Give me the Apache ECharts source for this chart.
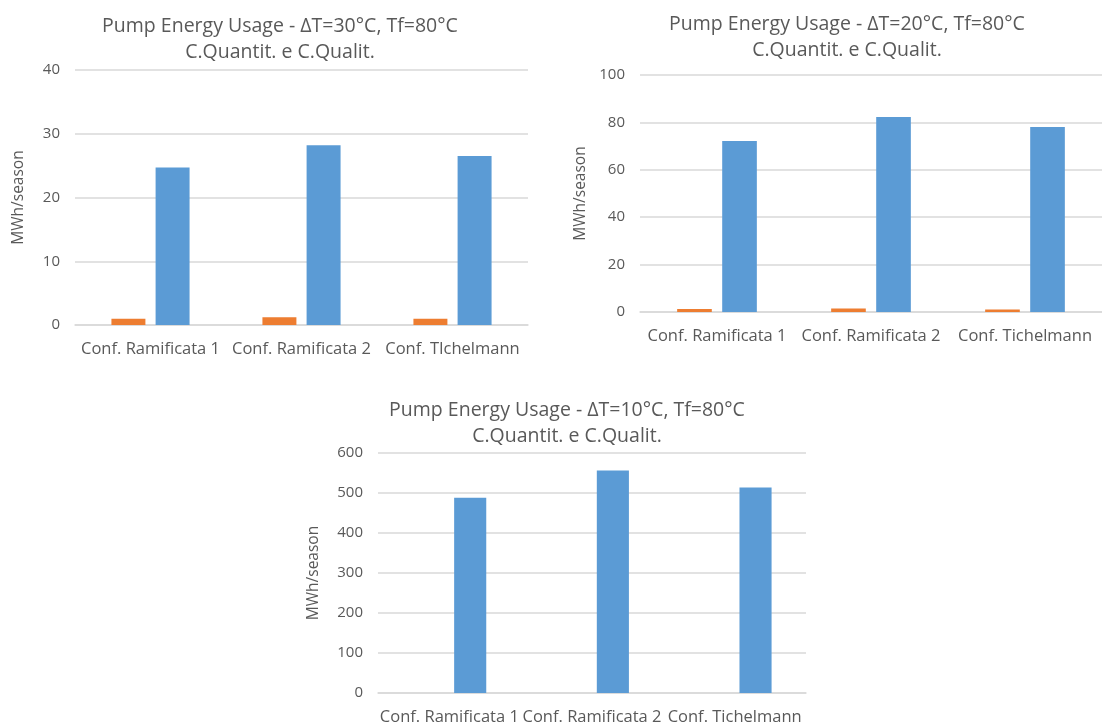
<!DOCTYPE html>
<html>
<head>
<meta charset="utf-8">
<script src="https://cdn.jsdelivr.net/npm/echarts@6/dist/echarts.min.js"></script>
<style>
  html, body { margin: 0; padding: 0; background: #fff; }
  #chart { width: 1102px; height: 726px; }
</style>
</head>
<body>
<div id="chart"></div>
<script>
// Categories per panel
const categoriesDT30 = ['Conf. Ramificata 1', 'Conf. Ramificata 2', 'Conf. TIchelmann'];
const categoriesDT20 = ['Conf. Ramificata 1', 'Conf. Ramificata 2', 'Conf. Tichelmann'];
const categoriesDT10 = ['Conf. Ramificata 1', 'Conf. Ramificata 2', 'Conf. Tichelmann'];

// Pump energy, MWh/season (orange series, blue series)
const orangeDT30 = [1.0, 1.2, 1.0];
const blueDT30 = [24.7, 28.2, 26.5];
const orangeDT20 = [1.3, 1.5, 1.1];
const blueDT20 = [72.2, 82.3, 78.1];
const orangeDT10 = [0, 0, 0];
const blueDT10 = [488, 556, 514];

// Axis ranges
const axisDT30 = { max: 40, interval: 10 };
const axisDT20 = { max: 100, interval: 20 };
const axisDT10 = { max: 600, interval: 100 };

const titlesText = [
  'Pump Energy Usage - ΔT=30°C, Tf=80°C\nC.Quantit. e C.Qualit.',
  'Pump Energy Usage - ΔT=20°C, Tf=80°C\nC.Quantit. e C.Qualit.',
  'Pump Energy Usage - ΔT=10°C, Tf=80°C\nC.Quantit. e C.Qualit.'
];

const FONT = '"Open Sans", "Noto Sans", sans-serif';
const TXT = '#595959';
const GRIDC = '#D9D9D9';
const ORANGE = '#ED7D31';
const BLUE = '#5B9BD5';

const panels = [
  { cats: categoriesDT30, orange: orangeDT30, blue: blueDT30, axis: axisDT30,
    grid: { left: 75, top: 70, width: 453, height: 255 }, titleX: 275, titleY: 8, nameGap: 48 },
  { cats: categoriesDT20, orange: orangeDT20, blue: blueDT20, axis: axisDT20,
    grid: { left: 640, top: 75, width: 462, height: 237 }, titleX: 842, titleY: 6, nameGap: 51 },
  { cats: categoriesDT10, orange: orangeDT10, blue: blueDT10, axis: axisDT10,
    grid: { left: 378, top: 453, width: 428, height: 240 }, titleX: 562, titleY: 392, nameGap: 56 }
];

const option = {
  animation: false,
  backgroundColor: '#fff',
  textStyle: { fontFamily: FONT },
  title: [], grid: [], xAxis: [], yAxis: [], series: []
};

panels.forEach((p, i) => {
  option.title.push({
    text: titlesText[i],
    left: p.titleX, top: p.titleY, textAlign: 'center',
    textStyle: { fontFamily: FONT, fontSize: 19.5, fontWeight: 'normal', color: TXT, lineHeight: 26 }
  });
  option.grid.push(Object.assign({ containLabel: false }, p.grid));
  option.xAxis.push({
    type: 'category', gridIndex: i, data: p.cats,
    axisLine: { lineStyle: { color: GRIDC, width: 1.5 } },
    axisTick: { show: false },
    axisLabel: { interval: 0, color: TXT, fontSize: 16.5, fontFamily: FONT, margin: 16 }
  });
  option.yAxis.push({
    type: 'value', gridIndex: i, min: 0, max: p.axis.max, interval: p.axis.interval,
    name: 'MWh/season', nameLocation: 'middle', nameRotate: 90, nameGap: p.nameGap,
    nameTextStyle: { color: TXT, fontSize: 15.5, fontFamily: FONT },
    axisLine: { show: false }, axisTick: { show: false },
    axisLabel: { color: TXT, fontSize: 15, fontFamily: FONT, margin: 15 },
    splitLine: { lineStyle: { color: GRIDC, width: 1.5 } }
  });
  option.series.push({
    type: 'bar', xAxisIndex: i, yAxisIndex: i, data: p.orange,
    barWidth: '22.5%', barGap: '30%',
    itemStyle: { color: ORANGE }
  });
  option.series.push({
    type: 'bar', xAxisIndex: i, yAxisIndex: i, data: p.blue,
    barWidth: '22.5%', barGap: '30%',
    itemStyle: { color: BLUE }
  });
});

const chart = echarts.init(document.getElementById('chart'), null, { renderer: 'canvas' });
chart.setOption(option);
</script>
</body>
</html>
